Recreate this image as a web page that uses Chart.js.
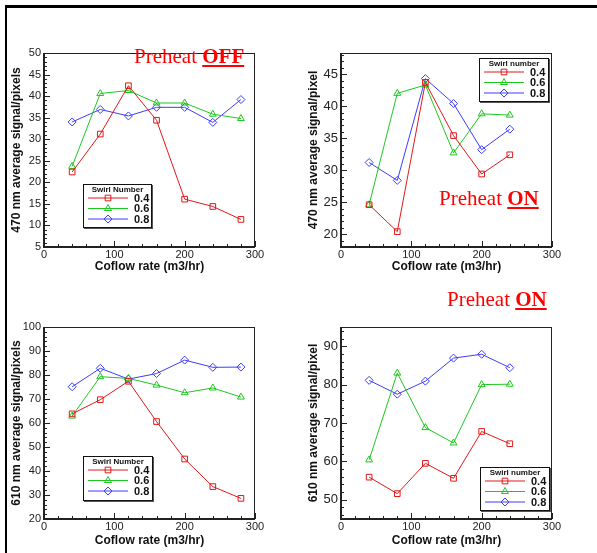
<!DOCTYPE html>
<html>
<head>
<meta charset="utf-8">
<script src="https://cdn.jsdelivr.net/npm/chart.js@4.4.1/dist/chart.umd.min.js"></script>
<style>
  html, body { margin: 0; padding: 0; background: #fff; }
  #page { position: relative; width: 597px; height: 553px; overflow: hidden; background: #fff; }
  canvas { position: absolute; }
  .frameTop { position: absolute; left: 5px; top: 5px; width: 592px; height: 3px; background: #000; }
  .frameLeft { position: absolute; left: 5px; top: 5px; width: 2px; height: 548px; background: #000; }
  .preheat { position: absolute; font-family: 'Liberation Serif', 'Times New Roman', serif; font-size: 21px; line-height: 21px; color: #ff0000; white-space: nowrap; }
  .preheat b { text-decoration: underline; text-decoration-thickness: 2px; text-underline-offset: 2px; }
</style>
</head>
<body>
<div id="page">
  <div class="frameTop"></div>
  <div class="frameLeft"></div>
  <canvas id="c470off" width="298" height="276" style="left:0px;top:0px"></canvas>
  <canvas id="c470on" width="300" height="276" style="left:297px;top:0px"></canvas>
  <canvas id="c610off" width="298" height="276" style="left:0px;top:277px"></canvas>
  <canvas id="c610on" width="300" height="276" style="left:297px;top:277px"></canvas>
  <div class="preheat" style="left:134px;top:46px">Preheat <b>OFF</b></div>
  <div class="preheat" style="left:439px;top:188px">Preheat <b>ON</b></div>
  <div class="preheat" style="left:447px;top:289px">Preheat <b>ON</b></div>
</div>
<script>
// coflow rates (m3/hr)
const coflowOff = [40, 80, 120, 160, 200, 240, 280];
const coflowOn = [40, 80, 120, 160, 200, 240];

const swirlLabels = ['0.4', '0.6', '0.8'];

// 470 nm, preheat off
const s470off_04 = [22.4, 31.2, 42.4, 34.4, 16.1, 14.4, 11.4];
const s470off_06 = [23.7, 40.6, 41.3, 38.4, 38.4, 35.8, 34.8];
const s470off_08 = [34.0, 36.9, 35.4, 37.4, 37.4, 33.9, 39.2];

// 470 nm, preheat on
const s470on_04 = [24.6, 20.4, 43.7, 35.4, 29.4, 32.4];
const s470on_06 = [24.6, 42.0, 43.3, 32.7, 38.8, 38.6];
const s470on_08 = [31.2, 28.4, 44.3, 40.4, 33.2, 36.4];

// 610 nm, preheat off
const s610off_04 = [63.8, 69.7, 77.4, 60.6, 45.0, 33.5, 28.6];
const s610off_06 = [62.9, 79.3, 78.6, 75.8, 72.6, 74.6, 70.8];
const s610off_08 = [75.1, 82.8, 78.3, 80.6, 86.2, 83.2, 83.3];

// 610 nm, preheat on
const s610on_04 = [55.9, 51.6, 59.5, 55.6, 67.8, 64.6];
const s610on_06 = [60.4, 83.0, 68.8, 64.8, 80.0, 80.1];
const s610on_08 = [81.1, 77.5, 80.9, 86.9, 87.9, 84.4];

// tick labels
const xTicks = [0, 100, 200, 300];
const yTicks470off = [5, 10, 15, 20, 25, 30, 35, 40, 45, 50];
const yTicks470on = [20, 25, 30, 35, 40, 45];
const yTicks610off = [20, 30, 40, 50, 60, 70, 80, 90, 100];
const yTicks610on = [50, 60, 70, 80, 90];

const COLORS = ['#e01818', '#1fc81f', '#3c3cff'];
const STYLES = ['rect', 'triangle', 'rectRot'];
const FONT = "'Liberation Sans', Arial, sans-serif";

function pts(xs, ys) {
  return ys.map((v, i) => ({ x: xs[i], y: v }));
}

// left/bottom inward ticks and the plot box
const frameTicks = {
  id: 'frameTicks',
  afterDatasetsDraw(chart, args, opts) {
    const { ctx, chartArea: a, scales: { x, y } } = chart;
    ctx.save();
    ctx.strokeStyle = '#222';
    ctx.lineWidth = 1;
    ctx.beginPath();
    for (let v = x.min; v <= x.max + 1e-9; v += opts.xMinor) {
      const px = Math.round(x.getPixelForValue(v)) + 0.5;
      ctx.moveTo(px, a.bottom);
      ctx.lineTo(px, a.bottom - 3);
    }
    x.ticks.forEach(t => {
      const px = Math.round(x.getPixelForValue(t.value)) + 0.5;
      ctx.moveTo(px, a.bottom);
      ctx.lineTo(px, a.bottom - 6);
    });
    const start = Math.ceil(y.min / opts.yMinor) * opts.yMinor;
    for (let v = start; v <= y.max + 1e-9; v += opts.yMinor) {
      const py = Math.round(y.getPixelForValue(v)) + 0.5;
      ctx.moveTo(a.left, py);
      ctx.lineTo(a.left + 3, py);
    }
    y.ticks.forEach(t => {
      const py = Math.round(y.getPixelForValue(t.value)) + 0.5;
      ctx.moveTo(a.left, py);
      ctx.lineTo(a.left + 6, py);
    });
    ctx.stroke();
    ctx.strokeRect(a.left + 0.5, a.top + 0.5, a.right - a.left - 1, a.bottom - a.top - 1);
    ctx.lineWidth = 2;
    ctx.beginPath();
    ctx.moveTo(a.left, a.top);
    ctx.lineTo(a.left, a.bottom);
    ctx.lineTo(a.right, a.bottom);
    ctx.stroke();
    ctx.restore();
  }
};

// boxed legend inside the plot
const boxLegend = {
  id: 'boxLegend',
  afterDraw(chart, args, o) {
    const { ctx } = chart;
    ctx.save();
    ctx.fillStyle = '#fff';
    ctx.fillRect(o.x, o.y, o.w, o.h);
    ctx.fillStyle = '#555';
    ctx.fillRect(o.x + 1, o.y + o.h, o.w, 1);
    ctx.fillRect(o.x + o.w, o.y + 1, 1, o.h);
    ctx.strokeStyle = '#111';
    ctx.lineWidth = 1;
    ctx.strokeRect(o.x + 0.5, o.y + 0.5, o.w - 1, o.h - 1);
    ctx.fillStyle = '#111';
    ctx.font = 'bold 8px ' + FONT;
    ctx.textAlign = 'center';
    ctx.textBaseline = 'middle';
    ctx.fillText(o.title, o.x + o.w / 2, o.y + 6);
    chart.data.datasets.forEach((ds, i) => {
      const yy = o.y + 14 + i * 10.5;
      ctx.strokeStyle = ds.borderColor;
      ctx.lineWidth = 1;
      ctx.beginPath();
      ctx.moveTo(o.x + 5, yy);
      ctx.lineTo(o.x + 45, yy);
      ctx.stroke();
      ctx.fillStyle = 'rgba(255,255,255,0)';
      Chart.helpers.drawPoint(ctx, { pointStyle: ds.pointStyle, radius: 4, rotation: 0, borderWidth: 1 }, o.x + 25, yy);
      ctx.fillStyle = '#111';
      ctx.font = 'bold 11px ' + FONT;
      ctx.textAlign = 'left';
      ctx.fillText(ds.label, o.x + 51, yy + 0.5);
    });
    ctx.restore();
  }
};

function makeChart(id, xs, series, cfg) {
  const datasets = series.map((ys, i) => ({
    label: swirlLabels[i],
    data: pts(xs, ys),
    borderColor: COLORS[i],
    backgroundColor: 'rgba(255,255,255,0)',
    borderWidth: 1,
    pointStyle: STYLES[i],
    pointRadius: 4,
    pointBorderWidth: 1,
    pointBorderColor: COLORS[i],
    pointBackgroundColor: 'rgba(255,255,255,0)',
    tension: 0
  }));
  return new Chart(document.getElementById(id), {
    type: 'line',
    data: { datasets },
    plugins: [frameTicks, boxLegend],
    options: {
      responsive: false,
      animation: false,
      events: [],
      layout: { padding: { top: cfg.top, right: cfg.right, left: 0, bottom: 0 } },
      plugins: {
        legend: { display: false },
        tooltip: { enabled: false },
        frameTicks: { xMinor: 20, yMinor: cfg.yMinor },
        boxLegend: cfg.legend
      },
      scales: {
        x: {
          type: 'linear',
          min: 0,
          max: 300,
          afterBuildTicks: s => { s.ticks = xTicks.map(v => ({ value: v })); },
          afterFit: s => { s.height = cfg.xH; },
          grid: { display: false, drawTicks: false },
          border: { display: false },
          ticks: { padding: 1, color: '#222', font: { family: FONT, size: 11 }, maxRotation: 0 },
          title: {
            display: true,
            text: 'Coflow rate (m3/hr)',
            color: '#111',
            font: { family: FONT, size: 12, weight: 'bold' },
            padding: { top: 0, bottom: cfg.xTitlePad }
          }
        },
        y: {
          type: 'linear',
          min: cfg.yMin,
          max: cfg.yMax,
          afterBuildTicks: s => { s.ticks = cfg.yTicks.map(v => ({ value: v })); },
          afterFit: s => { s.width = cfg.yW; },
          grid: { display: false, drawTicks: false },
          border: { display: false },
          ticks: { padding: 3, color: '#222', font: { family: FONT, size: cfg.yFont } },
          title: {
            display: true,
            text: cfg.yTitle,
            color: '#111',
            font: { family: FONT, size: 12, weight: 'bold' },
            padding: { top: 9, bottom: 0 }
          }
        }
      }
    }
  });
}

makeChart('c470off', coflowOff, [s470off_04, s470off_06, s470off_08], {
  top: 53, right: 43, yW: 44, xH: 29, xTitlePad: 2,
  yMin: 5, yMax: 50, yTicks: yTicks470off, yMinor: 1, yFont: 11,
  yTitle: '470 nm average signal/pixels',
  legend: { x: 83, y: 184, w: 69, h: 44, title: 'Swirl Number' }
});

makeChart('c470on', coflowOn, [s470on_04, s470on_06, s470on_08], {
  top: 53, right: 45, yW: 44, xH: 29, xTitlePad: 2,
  yMin: 18, yMax: 48.3, yTicks: yTicks470on, yMinor: 1, yFont: 13,
  yTitle: '470 nm average signal/pixel',
  legend: { x: 182, y: 58, w: 70, h: 44, title: 'Swirl number' }
});

makeChart('c610off', coflowOff, [s610off_04, s610off_06, s610off_08], {
  top: 50, right: 43, yW: 44, xH: 34, xTitlePad: 5,
  yMin: 20, yMax: 100, yTicks: yTicks610off, yMinor: 2, yFont: 11,
  yTitle: '610 nm average signal/pixels',
  legend: { x: 83, y: 179, w: 70, h: 45, title: 'Swirl Number' }
});

makeChart('c610on', coflowOn, [s610on_04, s610on_06, s610on_08], {
  top: 50, right: 45, yW: 44, xH: 34, xTitlePad: 5,
  yMin: 45, yMax: 95, yTicks: yTicks610on, yMinor: 2, yFont: 13,
  yTitle: '610 nm average signal/pixel',
  legend: { x: 183, y: 190, w: 70, h: 44, title: 'Swirl number' }
});
</script>
</body>
</html>
